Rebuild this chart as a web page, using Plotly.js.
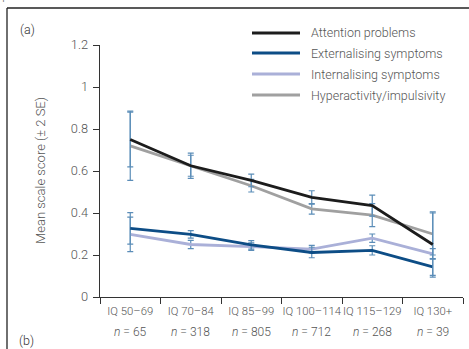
<!DOCTYPE html>
<html>
<head>
<meta charset="utf-8">
<script src="https://cdn.plot.ly/plotly-3.0.1.min.js"></script>
<style>html,body{margin:0;padding:0;background:#fff;}#chart{width:469px;height:349px;}</style>
</head>
<body>
<div id="chart"></div>
<script>
// ---- data ----
const categories = ['IQ 50–69', 'IQ 70–84', 'IQ 85–99', 'IQ 100–114', 'IQ 115–129', 'IQ 130+'];
const nValues = [65, 318, 805, 712, 268, 39];
const seriesNames = ['Attention problems', 'Externalising symptoms', 'Internalising symptoms', 'Hyperactivity/impulsivity'];
const attention = [0.75, 0.625, 0.555, 0.474, 0.435, 0.25];
const attentionErr = [0.13, 0.06, 0.03, 0.032, 0.05, 0.155];
const externalising = [0.327, 0.298, 0.248, 0.212, 0.222, 0.143];
const externalisingErr = [0.075, 0.018, 0.02, 0.025, 0.022, 0.04];
const internalising = [0.298, 0.25, 0.24, 0.228, 0.28, 0.205];
const internalisingErr = [0.082, 0.02, 0.018, 0.018, 0.02, 0.025];
const hyperactivity = [0.72, 0.625, 0.53, 0.42, 0.39, 0.30];
const hyperactivityErr = [0.165, 0.05, 0.03, 0.025, 0.055, 0.10];
const yTickVals = [0, 0.2, 0.4, 0.6, 0.8, 1, 1.2];
const yTickText = ['0', '0.2', '0.4', '0.6', '0.8', '1', '1.2'];

// ---- style ----
const FONT = 'Roboto, Lato, sans-serif';
const TXT = '#555';
const ERR = '#5b8db8';
const colors = ['#1c1c1c', '#0d4d86', '#aab0d8', '#a0a0a0'];
const W = 469, H = 349, ML = 100, MR = 6, MT = 45, MB = 52;
const PW = W - ML - MR, PH = H - MT - MB;
const px = x => (x - ML) / PW;
const py = y => (H - MB - y) / PH;
const f = (size, color) => ({family: FONT, size: size, color: color || TXT, weight: 300});

function trace(vals, errs, idx) {
  return {
    type: 'scatter', mode: 'lines', x: categories, y: vals, name: seriesNames[idx],
    line: {color: colors[idx], width: 2.8},
    error_y: {type: 'data', array: errs, visible: true, color: ERR, thickness: 1.2, width: 3},
    showlegend: false, hoverinfo: 'skip'
  };
}

const data = [
  trace(internalising, internalisingErr, 2),
  trace(externalising, externalisingErr, 1),
  trace(hyperactivity, hyperactivityErr, 3),
  trace(attention, attentionErr, 0)
];

const legendRows = [33, 53, 74, 95];
const shapes = [
  {type: 'line', xref: 'paper', yref: 'paper', x0: px(7), x1: px(7), y0: py(8), y1: py(360), line: {color: '#222', width: 1.3}},
  {type: 'line', xref: 'paper', yref: 'paper', x0: px(7), x1: px(480), y0: py(8), y1: py(8), line: {color: '#222', width: 1.3}}
];
const annotations = [
  {xref: 'paper', yref: 'paper', x: px(40), y: py(171), text: 'Mean scale score (± 2 SE)', textangle: -90, showarrow: false, font: f(13), xanchor: 'center', yanchor: 'middle'},
  {xref: 'paper', yref: 'paper', x: px(18), y: py(30), text: '(a)', showarrow: false, font: f(12.5, '#333'), xanchor: 'left', yanchor: 'middle'},
  {xref: 'paper', yref: 'paper', x: px(17), y: py(340), text: '(b)', showarrow: false, font: f(12.5, '#333'), xanchor: 'left', yanchor: 'middle'},
  {xref: 'paper', yref: 'paper', x: px(0), y: py(4), text: 'potentiel intellectuel.', showarrow: false, font: f(14, '#777'), xanchor: 'left', yanchor: 'bottom'}
];
seriesNames.forEach((nm, i) => {
  shapes.push({type: 'line', xref: 'paper', yref: 'paper', x0: px(252), x1: px(300), y0: py(legendRows[i]), y1: py(legendRows[i]), line: {color: colors[i], width: 2.8}});
  annotations.push({xref: 'paper', yref: 'paper', x: px(309), y: py(legendRows[i]), text: nm, showarrow: false, font: f(12.5), xanchor: 'left', yanchor: 'middle'});
});
categories.forEach((c, i) => {
  annotations.push({xref: 'x', yref: 'paper', x: c, y: py(332), text: '<i>n</i> = ' + nValues[i], showarrow: false, font: f(12), xanchor: 'center', yanchor: 'middle'});
});

const layout = {
  width: W, height: H,
  margin: {l: ML, r: MR, t: MT, b: MB, pad: 0},
  paper_bgcolor: '#fff', plot_bgcolor: '#fff',
  showlegend: false,
  xaxis: {
    type: 'category', range: [-0.5, 5.5], tickson: 'boundaries', ticks: 'outside', ticklen: 6, tickwidth: 1, tickcolor: '#333',
    showline: true, linecolor: '#333', linewidth: 1.3, showgrid: false, zeroline: false, tickangle: 0, automargin: false,
    tickfont: f(11.3), ticklabelstandoff: 3, fixedrange: true
  },
  yaxis: {
    range: [0, 1.2], tickmode: 'array', tickvals: yTickVals, ticktext: yTickText, ticks: 'outside', ticklen: 6, tickwidth: 1, tickcolor: '#333',
    showline: true, linecolor: '#333', linewidth: 1.3, showgrid: false, zeroline: false,
    tickfont: f(12.8), ticklabelstandoff: 2, fixedrange: true
  },
  shapes: shapes,
  annotations: annotations
};

Plotly.newPlot('chart', data, layout, {staticPlot: true, displayModeBar: false});
</script>
</body>
</html>
